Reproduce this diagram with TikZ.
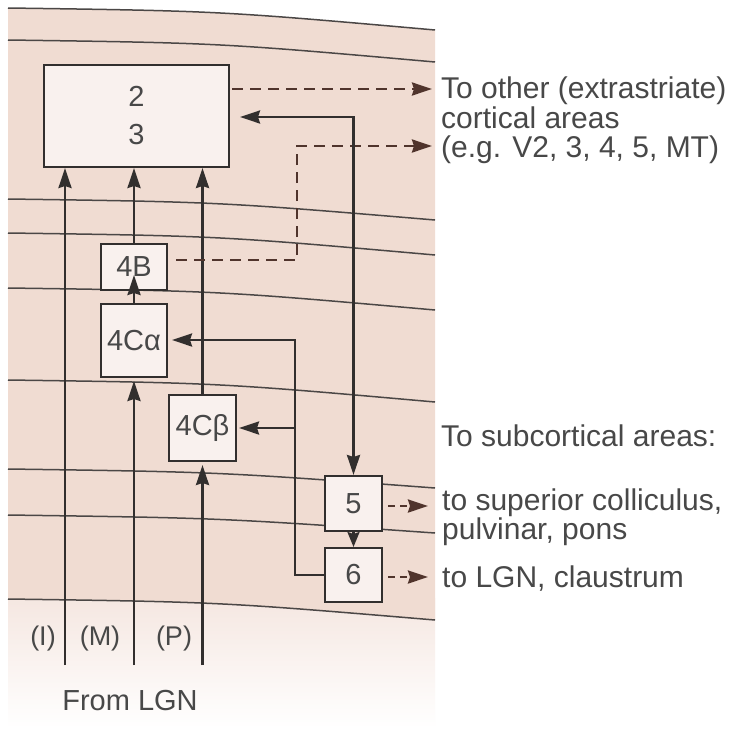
\documentclass[tikz,border=0pt]{standalone}
\usepackage{fontspec}
\setmainfont{Liberation Sans}
\usetikzlibrary{arrows.meta,calc}
\definecolor{peach}{RGB}{240,220,210}
\definecolor{peachlight}{RGB}{245,231,225}
\definecolor{boxfill}{RGB}{249,241,238}
\definecolor{inkc}{RGB}{50,47,46}
\definecolor{dashc}{RGB}{80,52,44}
\definecolor{txtc}{RGB}{72,72,72}
\definecolor{layerc}{RGB}{75,71,70}
\begin{document}
\begin{tikzpicture}[x=1pt,y=-1pt,
  >={Stealth[length=20pt,width=13pt,inset=2pt]},
  box/.style={draw=inkc,line width=2pt,fill=boxfill,inner sep=0pt,text=txtc,
    font=\fontsize{29}{38}\selectfont,align=center},
  conn/.style={draw=inkc,line width=2.6pt,->},
  dconn/.style={draw=dashc,line width=2.6pt,dash pattern=on 11pt off 7pt,->},
  sdconn/.style={draw=dashc,line width=2.6pt,dash pattern=on 7pt off 5pt,->},
  layer/.style={draw=layerc,line width=1.5pt},
  lbl/.style={font=\fontsize{30}{30}\selectfont,text=txtc,anchor=base west,inner sep=0pt},
  blbl/.style={font=\fontsize{27}{30}\selectfont,text=txtc,anchor=base,inner sep=0pt},
]
\useasboundingbox (0,0) rectangle (738,731);
\fill[white] (0,0) rectangle (738,731);
% background
\shade[top color=peachlight,bottom color=white] (8,598) rectangle (435,728);
\fill[peach] (8,8) .. controls (220,11) .. (435,30) -- (435,620)
  .. controls (220,602) .. (8,599) -- cycle;
% layer lines
\foreach \a/\b in {8/30,40/62,199/220,233/255,288/310,380/402,469/488,515/533,599/620}{
  \draw[layer] (8,\a) .. controls (220,{\a+3}) .. (435,\b);
}
% boxes
\node[box,minimum width=185pt,minimum height=102pt] (b23) at (136.5,116) {2\\3};
\node[box,minimum width=66pt,minimum height=46pt] (b4B) at (134,267) {4B};
\node[box,minimum width=66pt,minimum height=73pt] (b4Ca) at (134,340.5) {4Cα};
\node[box,minimum width=67pt,minimum height=66pt] (b4Cb) at (202.5,428) {4Cβ};
\node[box,minimum width=57pt,minimum height=55pt] (b5) at (353.5,503.5) {5};
\node[box,minimum width=57pt,minimum height=54pt] (b6) at (353.5,575) {6};
% coordinates
\coordinate (inI) at (65,665);
\coordinate (inM) at (134,665);
\coordinate (inP) at (202.5,665);
\coordinate (o1) at (432,89);
\coordinate (j1) at (353.5,117);
\coordinate (d1) at (297,260);
\coordinate (d2) at (297,146);
\coordinate (o2) at (432,146);
\coordinate (f1) at (295,575);
\coordinate (f2) at (295,340);
\coordinate (f3) at (295,428);
\coordinate (o5) at (428,506);
\coordinate (o6) at (428,577);
% ascending inputs
\draw[conn] (inI) -- (inI |- b23.south);
\draw[conn,shorten >=3pt] (inM) -- (b4Ca.south);
\draw[conn,shorten >=-16pt] (b4Ca.north) -- (b4B.south);
\draw[conn] (b4B.north) -- (b4B.north |- b23.south);
\draw[conn,shorten >=3pt] (inP) -- (b4Cb.south);
\draw[conn] (b4Cb.north) -- (b4Cb.north |- b23.south);
% outputs to cortical areas
\draw[dconn,shorten <=2pt] (b23.east |- o1) -- (o1);
\draw[dconn,shorten <=8pt] (b4B.east |- d1) -- (d1) -- (d2) -- (o2);
% 2/3 <-> 5
\draw[conn,<->,shorten <=10pt] (b23.east |- j1) -- (j1) -- (b5.north);
% 6 feedback to layer 4
\draw[conn,shorten >=4pt] (b6.west) -- (f1) -- (f2) -- (b4Ca.east |- f2);
\draw[conn,shorten >=2pt] (f3) -- (b4Cb.east |- f3);
% 5 -> 6
\draw[conn,-{Stealth[length=15pt,width=12pt,inset=2pt]}] (b5.south) -- (b6.north);
% subcortical outputs
\draw[sdconn,shorten <=5pt] (b5.east |- o5) -- (o5);
\draw[sdconn,shorten <=5pt] (b6.east |- o6) -- (o6);
% labels
\node[lbl] (t1) at (441,98) {To other (extrastriate)};
\node[lbl] (t2) at (441,128) {cortical areas};
\node[lbl] (t3) at (441,157) {(e.g. V2, 3, 4, 5, MT)};
\node[lbl] (t4) at (441,446) {To subcortical areas:};
\node[lbl] (t5) at (442,510) {to superior colliculus,};
\node[lbl] (t6) at (442,539) {pulvinar, pons};
\node[lbl] (t7) at (442,587) {to LGN, claustrum};
\node[blbl] (lI) at (43,645) {(I)};
\node[blbl] (lM) at (100,645) {(M)};
\node[blbl] (lP) at (174,645) {(P)};
\node[blbl,font=\fontsize{29}{30}\selectfont] (lLGN) at (130,710) {From LGN};
\end{tikzpicture}
\end{document}
